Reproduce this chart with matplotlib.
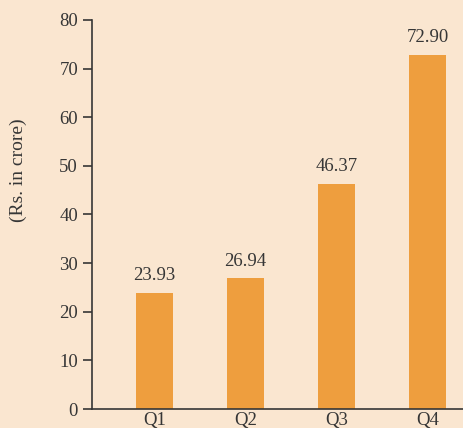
import matplotlib.pyplot as plt

# quarterly values (Rs. in crore)
quarters = ['Q1', 'Q2', 'Q3', 'Q4']
values = [23.93, 26.94, 46.37, 72.90]
value_labels = ['23.93', '26.94', '46.37', '72.90']
yticks = [0, 10, 20, 30, 40, 50, 60, 70, 80]

BG = '#FAE6D0'
BAR = '#EE9E3E'
TXT = '#363636'

plt.rcParams['font.family'] = ['Liberation Serif', 'DejaVu Serif']

fig = plt.figure(figsize=(4.64, 4.28), dpi=100, facecolor=BG)
ax = fig.add_axes([92 / 464, 1 - 409 / 428, 1 - 92 / 464, 389 / 428])
ax.set_facecolor(BG)

x = range(len(quarters))
bars = ax.bar(x, values, width=0.41, color=BAR, zorder=2)

for bar, lab in zip(bars, value_labels):
    ax.annotate(lab, (bar.get_x() + bar.get_width() / 2, bar.get_height()),
                xytext=(0, 6), textcoords='offset points',
                ha='center', va='bottom', fontsize=13.5, color=TXT)

ax.set_xlim(-0.687, 3.40)
ax.set_ylim(0, 80)
ax.set_xticks(list(x))
ax.set_xticklabels(quarters)
ax.set_yticks(yticks)

for side in ['top', 'right']:
    ax.spines[side].set_visible(False)
for side in ['left', 'bottom']:
    ax.spines[side].set_color(TXT)
    ax.spines[side].set_linewidth(1.2)

ax.tick_params(axis='y', length=6.5, width=1.2, color=TXT, pad=3.5,
               labelsize=13.5, labelcolor=TXT)
ax.tick_params(axis='x', length=0, pad=2, labelsize=13.5, labelcolor=TXT)

fig.text(18 / 464, 1 - 170 / 428, '(Rs. in crore)', rotation=90,
         ha='center', va='center', fontsize=14, color=TXT)

fig.savefig('out.png', dpi=100, facecolor=BG)
